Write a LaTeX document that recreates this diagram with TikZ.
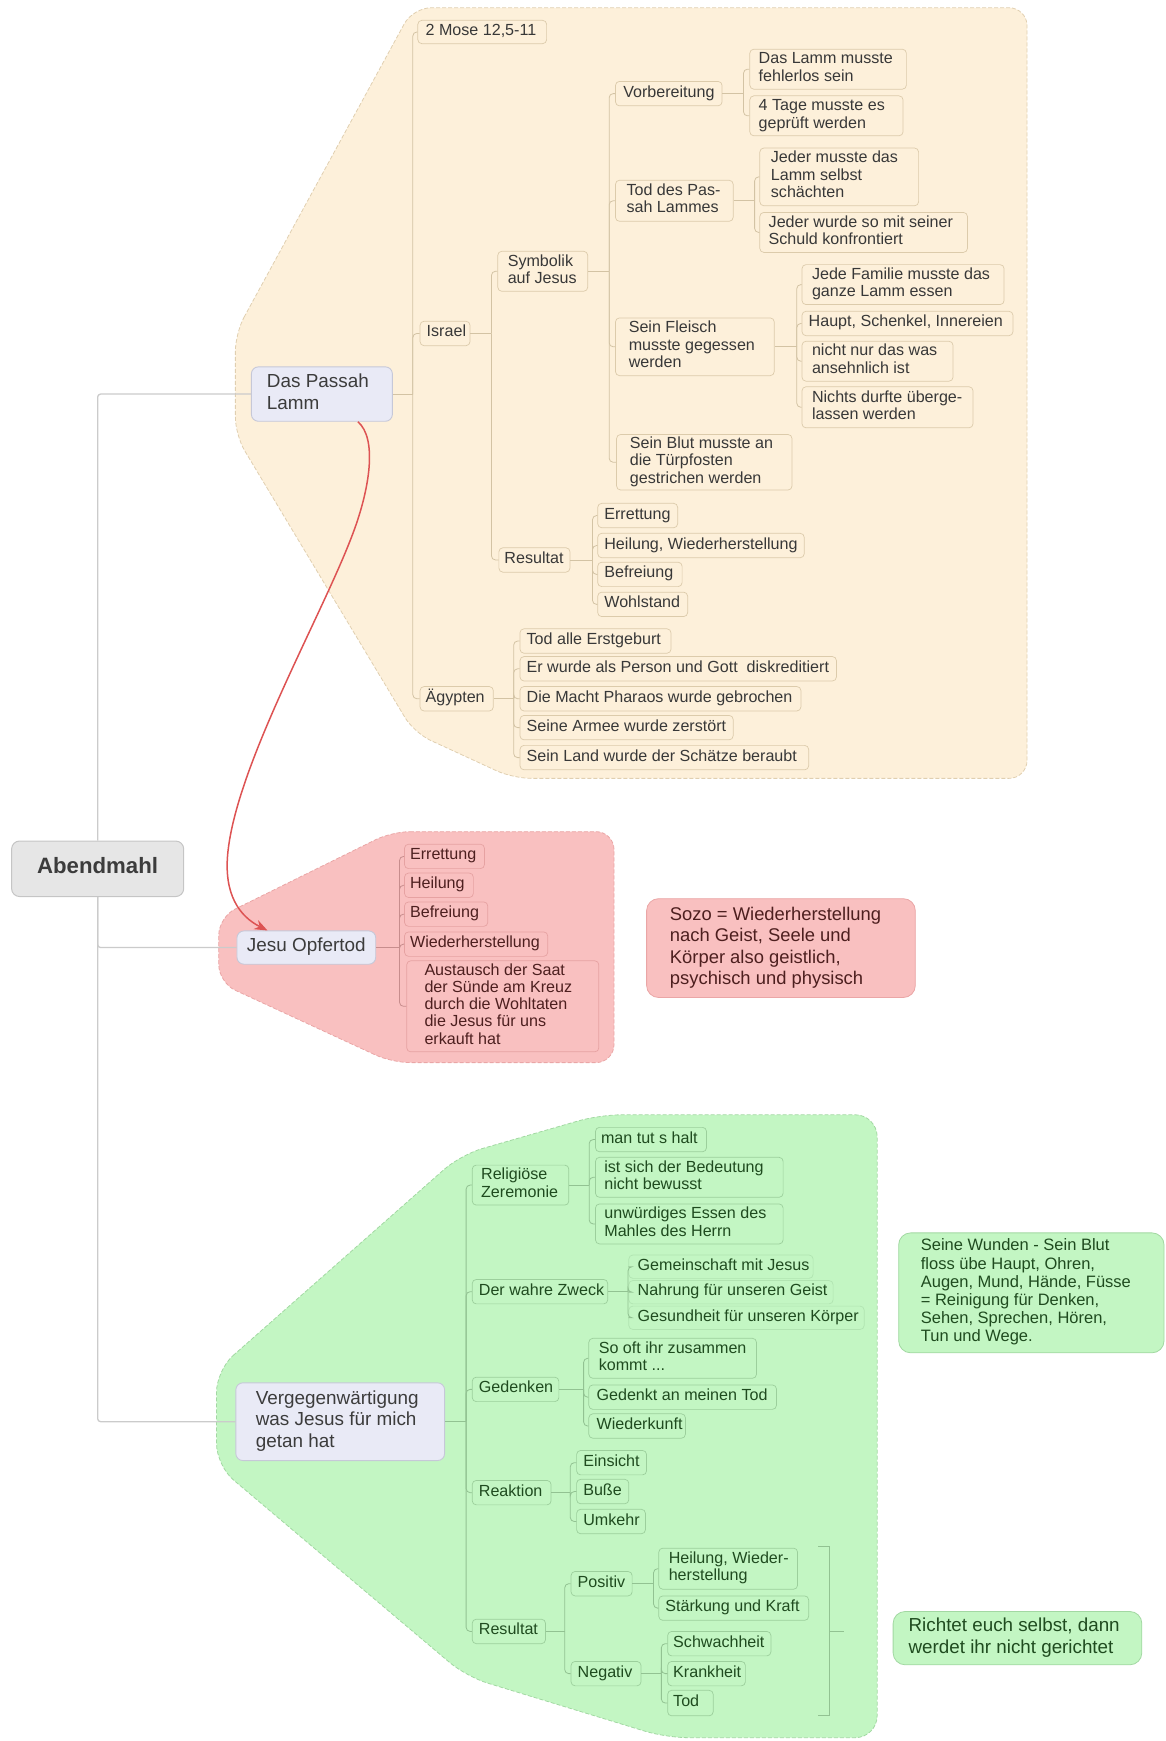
\documentclass[tikz,border=0pt]{standalone}
\usepackage{fontspec}
\setmainfont{Liberation Sans}
\usetikzlibrary{arrows.meta}

\definecolor{beigeF}{HTML}{FDF0DA}
\definecolor{beigeD}{HTML}{E0CFB0}
\definecolor{beigeBd}{HTML}{DCCBAB}
\definecolor{beigeLn}{HTML}{D3C3A4}
\definecolor{pinkF}{HTML}{F9C0C0}
\definecolor{pinkD}{HTML}{EAA6A6}
\definecolor{pinkBd}{HTML}{E6A2A2}
\definecolor{greenF}{HTML}{C3F6C3}
\definecolor{greenD}{HTML}{A2D8A2}
\definecolor{greenBd}{HTML}{9CCF9C}
\definecolor{topicF}{HTML}{E9EAF6}
\definecolor{topicBd}{HTML}{C6C8D8}
\definecolor{rootF}{HTML}{E6E6E6}
\definecolor{rootBd}{HTML}{C5C5C5}
\definecolor{mainLn}{HTML}{CBCBCB}
\definecolor{txtB}{HTML}{383838}
\definecolor{txtP}{HTML}{4D1F1F}
\definecolor{txtG}{HTML}{1F4B1F}
\definecolor{txtT}{HTML}{3C3C3C}
\definecolor{arrowR}{HTML}{DD5353}

\newcommand\bx[8][]{%
  \pgfmathsetlengthmacro\bxw{((#5)-(#3))*1.1105pt}%
  \pgfmathsetlengthmacro\bxh{((#6)-(#4))*1.1105pt}%
  \pgfmathsetlengthmacro\bxp{((#7)-(#3))*1.1105pt}%
  \node[#1,anchor=north west,minimum width=\bxw,minimum height=\bxh,inner xsep=0pt,inner ysep=0pt] (#2) at (#3,#4)
    {\makebox[\bxw][l]{\hspace*{\bxp}\begin{tabular}{@{}l@{}}#8\end{tabular}}};%
}
\newcommand\br[4]{%
  \draw[#1] (#2.east) -- ++(#3,0);%
  \foreach \cc in {#4}{\draw[#1] (#2.east) ++(#3,0) |- (\cc.west);}%
}

\begin{document}
\begin{tikzpicture}[x=1.1105pt,y=-1.1105pt,
  bb/.style={draw=beigeBd,fill=beigeF,text=txtB,rounded corners=4pt,line width=0.7pt,font=\fontsize{16.1}{17.4}\selectfont},
  pb/.style={draw=pinkBd,fill=pinkF,text=txtP,rounded corners=4pt,line width=0.7pt,font=\fontsize{16.1}{17.2}\selectfont},
  gb/.style={draw=greenBd,fill=greenF,text=txtG,rounded corners=4pt,line width=0.7pt,font=\fontsize{16.1}{17.4}\selectfont},
  gn/.style={gb,draw=greenBd!45!greenF},
  topic/.style={draw=topicBd,fill=topicF,text=txtT,rounded corners=7pt,line width=0.9pt,font=\fontsize{18.9}{21.4}\selectfont},
  root/.style={draw=rootBd,fill=rootF,text=txtT,rounded corners=8pt,line width=1pt,font=\bfseries\fontsize{22.2}{24}\selectfont},
  pnote/.style={draw=pinkD,fill=pinkF,text=txtP,rounded corners=12pt,line width=0.8pt,font=\fontsize{18.4}{21.4}\selectfont},
  gnote/.style={draw=greenD,fill=greenF,text=txtG,rounded corners=12pt,line width=0.8pt,font=\fontsize{16.5}{18.2}\selectfont},
  rnote/.style={gnote,font=\fontsize{18.8}{21.6}\selectfont},
  mc/.style={draw=mainLn,line width=1.3pt,rounded corners=3pt},
  bc/.style={draw=beigeLn,line width=0.8pt,rounded corners=4pt},
  pc/.style={draw=pinkD!85!black,line width=0.8pt,rounded corners=4pt},
  gc/.style={draw=greenD!90!black,line width=0.8pt,rounded corners=4pt},
  region/.style={line width=0.8pt,dash pattern=on 4pt off 2pt},
  redarrow/.style={draw=arrowR,line width=1.5pt,-{Stealth[length=13pt,width=10pt]}}
]
\useasboundingbox (0,0) rectangle (1050,1568);

% ---------- regions ----------
\draw[region,fill=beigeF,draw=beigeD,rounded corners=18pt]
  (212,300) -- (372,7) -- (925,7) -- (925,701) -- (462,701) -- (373,660) -- (212,392) -- cycle;
\draw[region,fill=pinkF,draw=pinkD,rounded corners=18pt]
  (353,749) -- (553,749) -- (553,957) -- (353,957) -- (197,885) -- (197,826) -- cycle;
\draw[region,fill=greenF,draw=greenD,rounded corners=22pt]
  (195,1234) -- (415,1040) -- (540,1004) -- (790,1004) -- (790,1565) -- (600,1565) -- (420,1510) -- (195,1320) -- cycle;

% ---------- root and topics ----------
\bx[root]{abend}{10}{757}{165}{807}{33}{Abendmahl}
\bx[topic]{passah}{226}{330}{353}{379}{240}{Das Passah\\Lamm}
\bx[topic]{jesu}{213}{838}{338}{868}{222}{Jesu Opfertod}
\bx[topic]{verg}{212}{1245}{400}{1315}{230}{Vergegenwärtigung\\was Jesus für mich\\getan hat}

% ---------- beige subtree ----------
\bx[bb]{mose}{376}{18}{492}{39}{383}{2 Mose 12,5-11}
\bx[bb]{israel}{378}{289}{423}{311}{384}{Israel}
\bx[bb]{symb}{448}{226}{529}{262}{457}{Symbolik\\auf Jesus}
\bx[bb]{vorb}{554}{73}{650}{95}{561}{Vorbereitung}
\bx[bb]{lamma}{675}{44}{816}{80}{683}{Das Lamm musste\\fehlerlos sein}
\bx[bb]{tage}{675}{86}{813}{122}{683}{4 Tage musste es\\geprüft werden}
\bx[bb]{tod}{554}{162}{660}{199}{564}{Tod des Pas-\\sah Lammes}
\bx[bb]{jedera}{684}{133}{827}{185}{694}{Jeder musste das\\Lamm selbst\\schächten}
\bx[bb]{jederb}{684}{191}{871}{227}{692}{Jeder wurde so mit seiner\\Schuld konfrontiert}
\bx[bb]{fleisch}{554}{286}{697}{338}{566}{Sein Fleisch\\musste gegessen\\werden}
\bx[bb]{fam}{722}{238}{904}{274}{731}{Jede Familie musste das\\ganze Lamm essen}
\bx[bb]{haupt}{722}{280}{912}{302}{728}{Haupt, Schenkel, Innereien}
\bx[bb]{nicht}{722}{307}{858}{343}{731}{nicht nur das was\\ansehnlich ist}
\bx[bb]{nichts}{722}{348}{876}{385}{731}{Nichts durfte überge-\\lassen werden}
\bx[bb]{blut}{555}{391}{713}{441}{567}{Sein Blut musste an\\die Türpfosten\\gestrichen werden}
\bx[bb]{resb}{449}{493}{513}{515}{454}{Resultat}
\bx[bb]{errb}{538}{453}{610}{475}{544}{Errettung}
\bx[bb]{heilb}{538}{480}{724}{502}{544}{Heilung, Wiederherstellung}
\bx[bb]{befrb}{538}{506}{614}{528}{544}{Befreiung}
\bx[bb]{wohl}{538}{533}{619}{555}{544}{Wohlstand}
\bx[bb]{aeg}{378}{618}{444}{640}{383}{Ägypten}
\bx[bb]{aega}{468}{566}{604}{588}{474}{Tod alle Erstgeburt}
\bx[bb]{aegb}{468}{591}{753}{613}{474}{Er wurde als Person und Gott\ \ diskreditiert}
\bx[bb]{aegc}{468}{618}{721}{640}{474}{Die Macht Pharaos wurde gebrochen}
\bx[bb]{aegd}{468}{644}{660}{666}{474}{Seine Armee wurde zerstört}
\bx[bb]{aege}{468}{671}{728}{693}{474}{Sein Land wurde der Schätze beraubt}

% ---------- pink subtree ----------
\bx[pb]{perr}{364}{760}{436}{782}{369}{Errettung}
\bx[pb]{pheil}{364}{786}{426}{808}{369}{Heilung}
\bx[pb]{pbefr}{364}{812}{439}{834}{369}{Befreiung}
\bx[pb]{pwied}{364}{839}{493}{861}{369}{Wiederherstellung}
\bx[pb]{paus}{366}{865}{539}{947}{382}{Austausch der Saat\\der Sünde am Kreuz\\durch die Wohltaten\\die Jesus für uns\\erkauft hat}
\bx[pnote]{sozo}{582}{809}{824}{898}{603}{Sozo = Wiederherstellung\\nach Geist, Seele und\\Körper also geistlich,\\psychisch und physisch}

% ---------- green subtree ----------
\bx[gb]{rel}{425}{1049}{512}{1085}{433}{Religiöse\\Zeremonie}
\bx[gb]{man}{536}{1015}{636}{1037}{541}{man tut s halt}
\bx[gb]{ist}{536}{1042}{705}{1078}{544}{ist sich der Bedeutung\\nicht bewusst}
\bx[gb]{unw}{536}{1084}{705}{1120}{544}{unwürdiges Essen des\\Mahles des Herrn}
\bx[gb]{zweck}{425}{1152}{547}{1174}{431}{Der wahre Zweck}
\bx[gn]{gem}{566}{1130}{732}{1151}{574}{Gemeinschaft mit Jesus}
\bx[gn]{nahr}{566}{1153}{750}{1174}{574}{Nahrung für unseren Geist}
\bx[gn]{ges}{566}{1176}{778}{1197}{574}{Gesundheit für unseren Körper}
\bx[gb]{ged}{425}{1240}{503}{1262}{431}{Gedenken}
\bx[gb]{oft}{530}{1205}{681}{1241}{539}{So oft ihr zusammen\\kommt ...}
\bx[gb]{gtod}{530}{1247}{699}{1269}{537}{Gedenkt an meinen Tod}
\bx[gb]{wied}{530}{1273}{617}{1295}{537}{Wiederkunft}
\bx[gb]{reak}{425}{1333}{496}{1355}{431}{Reaktion}
\bx[gb]{ein}{519}{1306}{582}{1328}{525}{Einsicht}
\bx[gb]{buss}{519}{1332}{566}{1354}{525}{Buße}
\bx[gb]{umk}{519}{1359}{581}{1381}{525}{Umkehr}
\bx[gb]{resg}{425}{1458}{491}{1480}{431}{Resultat}
\bx[gb]{pos}{514}{1415}{569}{1437}{520}{Positiv}
\bx[gb]{hw}{593}{1394}{718}{1431}{602}{Heilung, Wieder-\\herstellung}
\bx[gb]{st}{593}{1437}{728}{1459}{599}{Stärkung und Kraft}
\bx[gb]{neg}{514}{1496}{577}{1518}{520}{Negativ}
\bx[gb]{schw}{601}{1469}{694}{1491}{606}{Schwachheit}
\bx[gb]{krank}{601}{1496}{671}{1518}{606}{Krankheit}
\bx[gb]{gtodb}{601}{1522}{642}{1545}{606}{Tod}
\bx[gnote]{wund}{809}{1110}{1048}{1218}{829}{Seine Wunden - Sein Blut\\floss übe Haupt, Ohren,\\Augen, Mund, Hände, Füsse\\= Reinigung für Denken,\\Sehen, Sprechen, Hören,\\Tun und Wege.}
\bx[rnote]{richt}{804}{1451}{1028}{1499}{818}{Richtet euch selbst, dann\\werdet ihr nicht gerichtet}

% ---------- main connectors ----------
\draw[mc] (abend.north) |- (passah.west);
\draw[mc] (abend.south) |- (jesu.west);
\draw[mc] (abend.south) |- (verg.west);

% ---------- beige connectors ----------
\br{bc}{passah}{18}{mose,israel,aeg}
\br{bc}{israel}{19}{symb,resb}
\br{bc}{symb}{19}{vorb,tod,fleisch,blut}
\br{bc}{vorb}{19}{lamma,tage}
\br{bc}{tod}{19}{jedera,jederb}
\br{bc}{fleisch}{20}{fam,haupt,nicht,nichts}
\br{bc}{resb}{20}{errb,heilb,befrb,wohl}
\br{bc}{aeg}{18}{aega,aegb,aegc,aegd,aege}

% ---------- pink connectors ----------
\br{pc}{jesu}{21}{perr,pheil,pbefr,pwied,paus}

% ---------- green connectors ----------
\br{gc}{verg}{19}{rel,zweck,ged,reak,resg}
\br{gc}{rel}{18}{man,ist,unw}
\br{gc}{zweck}{18}{gem,nahr,ges}
\br{gc}{ged}{22}{oft,gtod,wied}
\br{gc}{reak}{17}{ein,buss,umk}
\br{gc}{resg}{17}{pos,neg}
\br{gc}{pos}{19}{hw,st}
\br{gc}{neg}{18}{schw,krank,gtodb}

% summary bracket
\coordinate (brT) at (747,1393);
\coordinate (brB) at (747,1545);
\coordinate (brM) at (747,1469);
\draw[gc,rounded corners=0pt] ([xshift=-11pt]brT) -- (brT) -- (brB) -- ([xshift=-11pt]brB);
\draw[gc] (brM) -- ++(13,0);

% ---------- red relationship arrow ----------
\draw[redarrow] ([xshift=36pt]passah.south) .. controls (340,395) and (333,440) .. (318,480)
  .. controls (290,555) and (212,690) .. (205,770)
  .. controls (202,805) and (215,825) .. ([xshift=31pt]jesu.north west);
\end{tikzpicture}
\end{document}
